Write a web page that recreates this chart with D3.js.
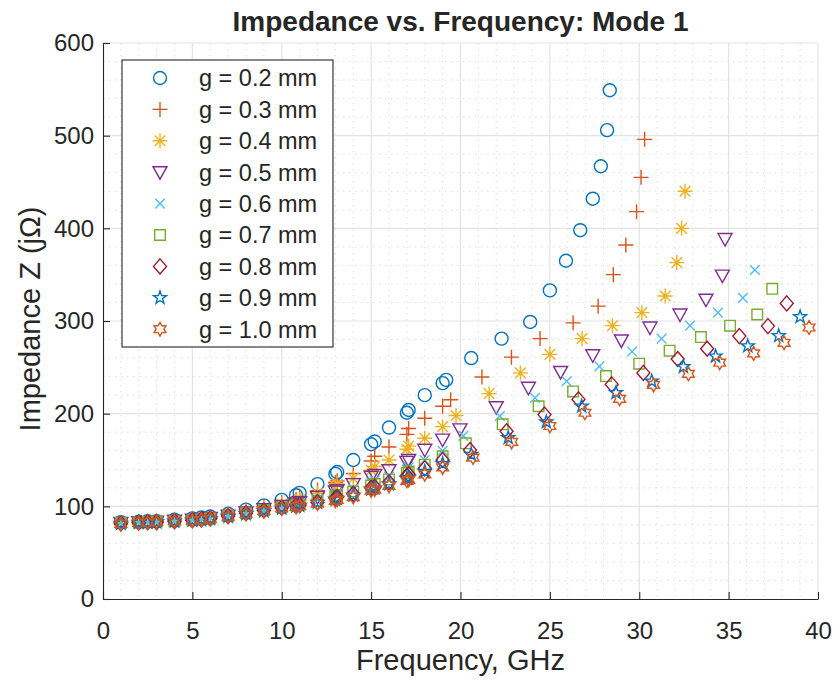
<!DOCTYPE html>
<html>
<head>
<meta charset="utf-8">
<script src="https://cdn.jsdelivr.net/npm/d3@7"></script>
<style>
    html, body { margin: 0; padding: 0; background: #fff; }
    svg text { font-family: "Liberation Sans", Arial, sans-serif; fill: #262626; }
</style>
</head>
<body>
<svg id="chart"></svg>
<script>
const WIDTH = 836;
const HEIGHT = 686;
const MARGIN = { top: 43, right: 18, bottom: 87, left: 103 };

// legend labels, one per gap width
const gapLabels = ['g = 0.2 mm', 'g = 0.3 mm', 'g = 0.4 mm', 'g = 0.5 mm', 'g = 0.6 mm',
    'g = 0.7 mm', 'g = 0.8 mm', 'g = 0.9 mm', 'g = 1.0 mm'];
const markers = ['circle', 'plus', 'asterisk', 'triangleDown', 'times', 'square', 'diamond', 'pentagram', 'hexagram'];
const colors = ['#0072BD', '#D95319', '#EDB120', '#7E2F8E', '#4DBEEE', '#77AC30', '#A2142F', '#0072BD', '#D95319'];

// low frequency sweep, shared by every gap (GHz)
const freqLow = [1, 2, 2.5, 3, 4, 5, 5.5, 6, 7, 8, 9, 10, 10.8, 11, 12, 13, 13.1, 14, 15, 15.2, 16, 17, 17.1, 18, 19];
const zLow02 = [83, 83.5, 84, 84, 85.5, 87, 88, 89, 92, 96.5, 101, 107, 112, 114.5, 124, 135, 137, 150, 167, 170, 185, 201, 204, 220, 233];
const zLow03 = [82.5, 83, 83.5, 84, 85, 86.5, 87, 88.5, 91.5, 95.5, 99.5, 104, 107.5, 111, 117, 125.5, 127.5, 135.5, 149, 154, 164, 177.7, 184, 195, 208];
const zLow04 = [82.5, 83, 83, 84, 85, 86, 87, 88, 91, 94.5, 98.5, 102.5, 105.5, 107, 114, 121.5, 124, 130, 139, 143, 150, 161.6, 165, 173.4, 186];
const zLow05 = [82, 83, 83, 83.5, 84.5, 85.5, 86.5, 87.5, 90, 93.5, 97, 100.5, 103, 104.5, 110, 116, 117.5, 124, 132, 134, 139, 148, 150, 161, 172];
const zLow06 = [82, 83, 83, 83.5, 84.5, 85.5, 86, 87.5, 90, 93, 96.5, 100, 102.5, 103, 107.5, 113, 114.5, 119, 126, 128, 132, 140, 142, 150, 160];
const zLow07 = [82, 82.5, 83, 83.5, 84, 85, 86, 87, 89.5, 92.5, 96, 99, 101, 102, 106, 111, 112, 116, 122.5, 124, 129, 136, 137.5, 145, 154];
const zLow08 = [81.5, 82.5, 83, 83, 84, 85, 86, 87, 89.5, 92.5, 95.5, 98.5, 100.5, 101.5, 104.5, 109, 110, 113.5, 120, 121, 126, 133, 134.5, 141, 150];
const zLow09 = [81.5, 82.5, 82.5, 83, 84, 85, 85.5, 86.5, 89, 92, 95, 98, 100, 101, 104, 107.5, 108.5, 112, 118.5, 119.5, 124, 130, 131, 137.5, 146];
const zLow10 = [81, 82, 82.5, 83, 84, 84.5, 85.5, 86.5, 89, 92, 95, 98, 99.5, 100.5, 103, 106, 107, 110, 117, 118, 122, 127.5, 128.5, 134.6, 142];

// upper branch of each gap: frequency (GHz) and impedance
const fHigh02 = [19.2, 20.6, 22.3, 23.9, 25.0, 25.9, 26.7, 27.4, 27.85, 28.2, 28.35];
const zHigh02 = [236.5, 260, 281, 299, 333, 365, 398, 432, 467, 506, 549];
const fHigh03 = [19.45, 21.2, 22.85, 24.45, 26.3, 27.7, 28.55, 29.25, 29.85, 30.1, 30.3];
const zHigh03 = [215, 239.5, 261, 281, 298, 316, 350, 382, 418, 455, 496];
const fHigh04 = [19.75, 21.6, 23.35, 25.0, 26.8, 28.5, 30.15, 31.45, 32.1, 32.37, 32.56];
const zHigh04 = [198, 221.6, 244, 264, 281, 295, 309, 327, 363, 400, 440];
const fHigh05 = [19.97, 22.0, 23.8, 25.6, 27.4, 29.0, 30.6, 32.28, 33.73, 34.65, 34.8];
const zHigh05 = [183, 207, 228, 245, 263, 279, 293, 307, 323, 349, 388.5];
const fHigh06 = [20.16, 22.2, 24.17, 25.94, 27.77, 29.6, 31.25, 32.84, 34.4, 35.8, 36.47];
const zHigh06 = [176, 197.5, 217, 235, 251, 267, 281, 295, 309, 325, 355];
const fHigh07 = [20.3, 22.36, 24.37, 26.3, 28.14, 30.0, 31.7, 33.45, 35.08, 36.6, 37.44];
const zHigh07 = [168, 188.5, 208, 224, 240.6, 254, 268, 282.6, 295, 307, 334.7];
const fHigh08 = [20.53, 22.58, 24.7, 26.6, 28.46, 30.23, 32.15, 33.8, 35.6, 37.2, 38.25];
const zHigh08 = [160.8, 181, 199, 215.4, 231.6, 244, 259, 270, 283.7, 294.5, 319];
const fHigh09 = [20.6, 22.67, 24.8, 26.78, 28.7, 30.7, 32.47, 34.27, 36.07, 37.8, 39.0];
const zHigh09 = [156, 174, 191, 208, 222.6, 235, 250.7, 262, 273, 284, 304.5];
const fHigh10 = [20.7, 22.86, 25.0, 26.96, 28.9, 30.8, 32.75, 34.5, 36.4, 38.1, 39.5];
const zHigh10 = [152.6, 169.5, 186.7, 201, 216, 231, 243, 255, 265, 276.5, 293];

const xTicks = [0, 5, 10, 15, 20, 25, 30, 35, 40];
const yTicks = [0, 100, 200, 300, 400, 500, 600];

const zLow = [zLow02, zLow03, zLow04, zLow05, zLow06, zLow07, zLow08, zLow09, zLow10];
const fHigh = [fHigh02, fHigh03, fHigh04, fHigh05, fHigh06, fHigh07, fHigh08, fHigh09, fHigh10];
const zHigh = [zHigh02, zHigh03, zHigh04, zHigh05, zHigh06, zHigh07, zHigh08, zHigh09, zHigh10];

const series = gapLabels.map((label, i) => ({
    label,
    marker: markers[i],
    color: colors[i],
    points: freqLow.map((f, j) => [f, zLow[i][j]])
        .concat(fHigh[i].map((f, j) => [f, zHigh[i][j]])),
}));

// outline markers, sized in pixels like the MATLAB figure
const markerPath = type => {
    const p = d3.path();
    const polygon = pts => {
        pts.forEach(([x, y], k) => (k ? p.lineTo(x, y) : p.moveTo(x, y)));
        p.closePath();
    };
    const star = (n, ro, ri) => {
        const pts = [];
        for (let k = 0; k < 2 * n; k++) {
            const a = -Math.PI / 2 + (k * Math.PI) / n;
            const r = k % 2 ? ri : ro;
            pts.push([r * Math.cos(a), r * Math.sin(a)]);
        }
        polygon(pts);
    };
    switch (type) {
    case 'circle':
        p.moveTo(6.5, 0);
        p.arc(0, 0, 6.5, 0, 2 * Math.PI);
        break;
    case 'plus':
        p.moveTo(-7.5, 0); p.lineTo(7.5, 0);
        p.moveTo(0, -7.5); p.lineTo(0, 7.5);
        break;
    case 'asterisk':
        p.moveTo(-7.5, 0); p.lineTo(7.5, 0);
        p.moveTo(0, -7.5); p.lineTo(0, 7.5);
        p.moveTo(-5.3, -5.3); p.lineTo(5.3, 5.3);
        p.moveTo(-5.3, 5.3); p.lineTo(5.3, -5.3);
        break;
    case 'triangleDown':
        polygon([[-7, -5.5], [7, -5.5], [0, 7]]);
        break;
    case 'times':
        p.moveTo(-4.8, -4.8); p.lineTo(4.8, 4.8);
        p.moveTo(-4.8, 4.8); p.lineTo(4.8, -4.8);
        break;
    case 'square':
        polygon([[-5.3, -5.3], [5.3, -5.3], [5.3, 5.3], [-5.3, 5.3]]);
        break;
    case 'diamond':
        polygon([[0, -7.5], [6.5, 0], [0, 7.5], [-6.5, 0]]);
        break;
    case 'pentagram':
        star(5, 6.8, 2.7);
        break;
    case 'hexagram':
        star(6, 6.8, 3.9);
        break;
    default:
        break;
    }
    return p.toString();
};

const svg = d3.select('#chart').attr('width', WIDTH).attr('height', HEIGHT);
const innerW = WIDTH - MARGIN.left - MARGIN.right;
const innerH = HEIGHT - MARGIN.top - MARGIN.bottom;

const xCoord = d3.scaleLinear().domain([0, 40]).range([0, innerW]);
const yCoord = d3.scaleLinear().domain([0, 600]).range([innerH, 0]);

const plot = svg.append('g').attr('transform', `translate(${MARGIN.left}, ${MARGIN.top})`);

// minor grid
const gridMinor = plot.append('g').attr('class', 'grid-minor');
gridMinor.selectAll('line.mx')
    .data(d3.range(1, 40).filter(v => v % 5 !== 0))
    .join(enter => enter.append('line').attr('class', 'mx'))
    .attr('x1', d => xCoord(d)).attr('x2', d => xCoord(d))
    .attr('y1', 0).attr('y2', innerH);
gridMinor.selectAll('line.my')
    .data(d3.range(20, 600, 20).filter(v => v % 100 !== 0))
    .join(enter => enter.append('line').attr('class', 'my'))
    .attr('x1', 0).attr('x2', innerW)
    .attr('y1', d => yCoord(d)).attr('y2', d => yCoord(d));
gridMinor.selectAll('line')
    .attr('stroke', '#dedede')
    .attr('stroke-width', 1)
    .attr('stroke-dasharray', '1.5,4.5');

// major grid
const gridMajor = plot.append('g').attr('class', 'grid-major');
gridMajor.selectAll('line.gx')
    .data(xTicks.slice(1))
    .join(enter => enter.append('line').attr('class', 'gx'))
    .attr('x1', d => xCoord(d)).attr('x2', d => xCoord(d))
    .attr('y1', 0).attr('y2', innerH);
gridMajor.selectAll('line.gy')
    .data(yTicks.slice(1))
    .join(enter => enter.append('line').attr('class', 'gy'))
    .attr('x1', 0).attr('x2', innerW)
    .attr('y1', d => yCoord(d)).attr('y2', d => yCoord(d));
gridMajor.selectAll('line').attr('stroke', '#e3e3e3').attr('stroke-width', 1.2);

// axes, ticks pointing inward as in MATLAB
const xAxis = d3.axisBottom(xCoord).tickValues(xTicks).tickSize(-7).tickPadding(23).tickSizeOuter(0);
const yAxis = d3.axisLeft(yCoord).tickValues(yTicks).tickSize(-7).tickPadding(9).tickSizeOuter(0);

const axisStyle = g => {
    g.select('.domain').attr('stroke', '#262626').attr('stroke-width', 1.1);
    g.selectAll('.tick line').attr('stroke', '#262626').attr('stroke-width', 1.1);
    g.selectAll('.tick text')
        .attr('font-size', 24)
        .attr('font-family', '"Liberation Sans", Arial, sans-serif')
        .attr('fill', '#262626');
};

plot.append('g')
    .attr('class', 'axis axis--x')
    .attr('transform', `translate(0, ${innerH})`)
    .call(xAxis)
    .call(axisStyle);

plot.append('g')
    .attr('class', 'axis axis--y')
    .call(yAxis)
    .call(axisStyle);

// data
series.forEach(s => {
    plot.append('g')
        .attr('class', 'series')
        .selectAll('path')
        .data(s.points)
        .join('path')
        .attr('transform', d => `translate(${xCoord(d[0])}, ${yCoord(d[1])})`)
        .attr('d', markerPath(s.marker))
        .attr('fill', 'none')
        .attr('stroke', s.color)
        .attr('stroke-width', 1.4);
});

// legend
const legend = plot.append('g').attr('class', 'legend').attr('transform', 'translate(19, 17)');
legend.append('rect')
    .attr('width', 211).attr('height', 287)
    .attr('fill', '#fff')
    .attr('stroke', '#262626')
    .attr('stroke-width', 1.1);
const rows = legend.selectAll('g.row')
    .data(series)
    .join('g')
    .attr('class', 'row')
    .attr('transform', (d, i) => `translate(0, ${18 + i * 31.4})`);
rows.append('path')
    .attr('transform', 'translate(38, 0)')
    .attr('d', d => markerPath(d.marker))
    .attr('fill', 'none')
    .attr('stroke', d => d.color)
    .attr('stroke-width', 1.4);
rows.append('text')
    .attr('x', 77)
    .attr('dy', '0.36em')
    .attr('font-size', 23.5)
    .text(d => d.label);

// titles
svg.append('text')
    .attr('x', MARGIN.left + innerW / 2)
    .attr('y', 31)
    .attr('text-anchor', 'middle')
    .attr('font-size', 28)
    .attr('font-weight', 'bold')
    .attr('fill', '#000')
    .text('Impedance vs. Frequency: Mode 1');

svg.append('text')
    .attr('x', MARGIN.left + innerW / 2)
    .attr('y', 670)
    .attr('text-anchor', 'middle')
    .attr('font-size', 29)
    .text('Frequency, GHz');

svg.append('text')
    .attr('transform', `translate(40, ${MARGIN.top + innerH / 2 - 2}) rotate(-90)`)
    .attr('text-anchor', 'middle')
    .attr('font-size', 29)
    .text('Impedance Z (jΩ)');
</script>
</body>
</html>
